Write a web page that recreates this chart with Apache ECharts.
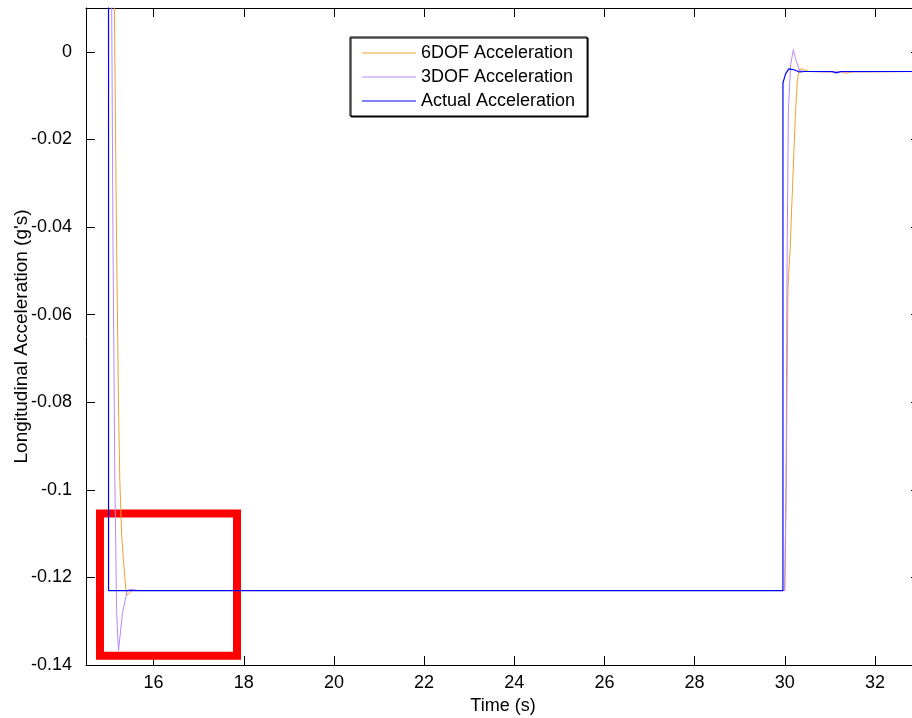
<!DOCTYPE html>
<html>
<head>
<meta charset="utf-8">
<script src="https://cdn.jsdelivr.net/npm/echarts@6/dist/echarts.min.js"></script>
<style>
html,body{margin:0;padding:0;background:#fff;overflow:hidden;}
#chart{width:920px;height:718px;}
</style>
</head>
<body>
<div id="chart"></div>
<script>
// ---- data ----
var xTicks = [16, 18, 20, 22, 24, 26, 28, 30, 32];
var yTicks = [-0.14, -0.12, -0.1, -0.08, -0.06, -0.04, -0.02, 0];

var time6dof = [15.10, 15.13, 15.18, 15.22, 15.25, 15.29, 15.33, 15.37, 15.40, 15.46, 15.54, 15.62, 15.70, 30.00, 30.04, 30.07, 30.09, 30.12, 30.16, 30.21, 30.24, 30.28, 30.32, 30.38, 30.45, 30.55, 31.0, 31.25, 31.35, 31.5, 33.0];
var acc6dof  = [0.03, 0.0098, -0.045, -0.080, -0.0978, -0.110, -0.116, -0.121, -0.1241, -0.1236, -0.1228, -0.1230, -0.1230, -0.1230, -0.090, -0.0545, -0.050, -0.045, -0.034, -0.021, -0.0135, -0.0065, -0.0040, -0.0039, -0.0042, -0.0045, -0.0046, -0.0046, -0.0049, -0.0046, -0.0045];

var time3dof = [15.055, 15.07, 15.10, 15.14, 15.18, 15.22, 15.26, 15.31, 15.37, 15.41, 15.46, 15.50, 15.59, 15.70, 30.00, 30.03, 30.05, 30.08, 30.13, 30.19, 30.25, 30.33, 30.45, 31.0, 33.0];
var acc3dof  = [0.03, 0.0098, -0.045, -0.0978, -0.128, -0.1368, -0.133, -0.128, -0.1252, -0.1232, -0.1227, -0.1226, -0.1229, -0.1230, -0.1230, -0.100, -0.050, -0.0135, -0.003, 0.0005, -0.002, -0.0043, -0.0045, -0.0046, -0.0045];

var timeActual = [15.0, 15.0, 29.96, 29.96, 30.02, 30.09, 30.20, 30.33, 30.44, 31.05, 31.14, 31.25, 33.0];
var accActual  = [0.03, -0.123, -0.123, -0.0071, -0.0050, -0.0039, -0.0041, -0.0046, -0.0045, -0.0045, -0.0048, -0.0045, -0.0045];

var seriesNames = ['6DOF Acceleration', '3DOF Acceleration', 'Actual Acceleration'];
var seriesColors = ['#F0A030', '#B888F8', '#0000FF'];

// highlight box (data coordinates)
var boxX = [14.81, 17.85];
var boxY = [-0.1054, -0.1379];

function zip(a, b) { return a.map(function (v, i) { return [v, b[i]]; }); }

var fontFamily = 'Liberation Sans, Arial, Helvetica, sans-serif';
var FS = 18;
var chart = echarts.init(document.getElementById('chart'), null, {renderer: 'canvas'});

function fmtY(v) { return String(Number(v.toFixed(2))); }

var axisLineStyle = {show: true, onZero: false, lineStyle: {color: '#000', width: 1}};

var option = {
  animation: false,
  backgroundColor: '#fff',
  textStyle: {fontFamily: fontFamily},
  grid: {left: 86, right: 0, top: 8, bottom: 53, containLabel: false, outerBoundsMode: 'none'},
  legend: {
    data: seriesNames,
    orient: 'vertical',
    left: 350,
    top: 37,
    itemWidth: 54,
    itemHeight: 14,
    itemGap: 6,
    padding: [7, 12, 6, 12],
    backgroundColor: '#fff',
    borderColor: '#000',
    borderWidth: 1,
    borderRadius: 0,
    shadowColor: '#000',
    shadowBlur: 0,
    shadowOffsetX: 1,
    shadowOffsetY: 1,
    textStyle: {fontSize: FS, color: '#000', fontFamily: fontFamily, lineHeight: 18},
    icon: 'path://M0,0 L54,0 L54,1 L0,1 Z'
  },
  xAxis: [{
    type: 'value', min: 14.5, max: 33, position: 'bottom',
    name: 'Time (s)', nameLocation: 'middle', nameGap: 32, nameMoveOverlap: false,
    nameTextStyle: {fontSize: FS, color: '#000', fontFamily: fontFamily},
    axisLine: axisLineStyle,
    axisTick: {show: true, inside: true, length: 9, customValues: xTicks, lineStyle: {color: '#000'}},
    axisLabel: {show: true, customValues: xTicks, fontSize: FS, color: '#000', margin: 9, fontFamily: fontFamily},
    splitLine: {show: false}
  }, {
    type: 'value', min: 14.5, max: 33, position: 'top',
    axisLine: axisLineStyle,
    axisTick: {show: true, inside: true, length: 9, customValues: xTicks, lineStyle: {color: '#000'}},
    axisLabel: {show: false},
    splitLine: {show: false}
  }],
  yAxis: [{
    type: 'value', min: -0.14, max: 0.01, position: 'left',
    name: "Longitudinal Acceleration (g's)", nameLocation: 'middle', nameGap: 55, nameMoveOverlap: false,
    nameTextStyle: {fontSize: 19, color: '#000', fontFamily: fontFamily},
    axisLine: axisLineStyle,
    axisTick: {show: true, inside: true, length: 9, customValues: yTicks, lineStyle: {color: '#000'}},
    axisLabel: {show: true, customValues: yTicks, fontSize: FS, color: '#000', margin: 14, formatter: fmtY, fontFamily: fontFamily},
    splitLine: {show: false}
  }, {
    type: 'value', min: -0.14, max: 0.01, position: 'right',
    axisLine: axisLineStyle,
    axisTick: {show: true, inside: true, length: 9, customValues: yTicks, lineStyle: {color: '#000'}},
    axisLabel: {show: false},
    splitLine: {show: false}
  }],
  series: [
    {name: seriesNames[0], type: 'line', data: zip(time6dof, acc6dof), symbol: 'none', clip: true,
     lineStyle: {width: 1, color: seriesColors[0]}, itemStyle: {color: seriesColors[0]}, z: 2},
    {name: seriesNames[1], type: 'line', data: zip(time3dof, acc3dof), symbol: 'none', clip: true,
     lineStyle: {width: 1, color: seriesColors[1]}, itemStyle: {color: seriesColors[1]}, z: 3},
    {name: seriesNames[2], type: 'line', data: zip(timeActual, accActual), symbol: 'none', clip: true,
     lineStyle: {width: 1.2, color: seriesColors[2]}, itemStyle: {color: seriesColors[2]}, z: 4},
    {name: 'box', type: 'line', data: [], z: 10, silent: true,
     markArea: {silent: true,
       itemStyle: {color: 'rgba(0,0,0,0)', borderColor: '#FF0000', borderWidth: 8},
       data: [[{xAxis: boxX[0], yAxis: boxY[0]}, {xAxis: boxX[1], yAxis: boxY[1]}]]}}
  ]
};
chart.setOption(option);
</script>
</body>
</html>
